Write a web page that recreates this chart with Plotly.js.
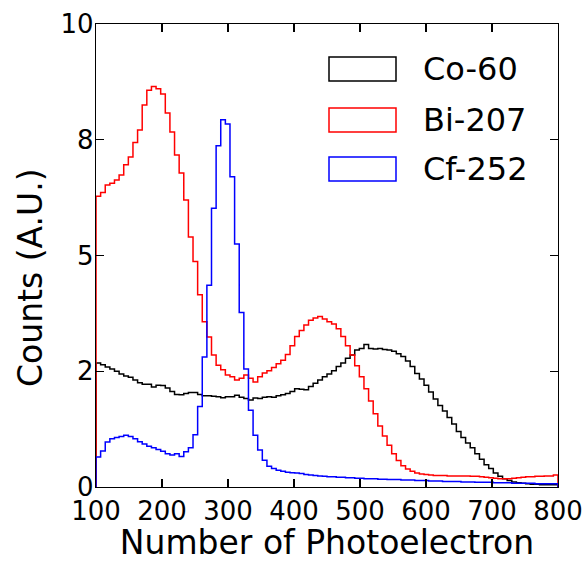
<!DOCTYPE html>
<html>
<head>
<meta charset="utf-8">
<script src="https://cdn.plot.ly/plotly-3.0.1.min.js"></script>
<style>html,body{margin:0;padding:0;background:#fff;}#chart{width:588px;height:562px;}</style>
</head>
<body>
<div id="chart"></div>
<script>
// Histogram: 100 bins of width 7 from 100 to 800
const binStart = 100;
const binWidth = 7;

const co60 = [2.68,2.64,2.59,2.55,2.50,2.44,2.40,2.37,2.31,2.25,2.22,2.22,2.16,2.20,2.19,2.14,2.06,2.00,1.99,2.02,
  2.04,2.04,2.00,1.97,1.97,1.96,1.95,1.93,1.95,1.95,1.98,1.94,1.91,1.88,1.92,1.91,1.94,1.95,1.94,1.97,
  1.99,2.02,2.06,2.12,2.11,2.10,2.17,2.24,2.31,2.38,2.44,2.51,2.60,2.68,2.78,2.85,2.96,2.99,3.08,2.99,
  2.98,2.99,2.97,2.96,2.93,2.88,2.82,2.72,2.60,2.45,2.33,2.20,2.05,1.90,1.76,1.64,1.50,1.36,1.20,1.07,
  0.95,0.85,0.72,0.60,0.48,0.40,0.30,0.23,0.18,0.14,0.11,0.09,0.08,0.07,0.06,0.06,0.05,0.05,0.05,0.05];

const bi207 = [6.28,6.36,6.52,6.56,6.63,6.74,6.96,7.13,7.44,7.71,8.25,8.57,8.65,8.60,8.49,8.08,7.67,7.17,6.78,6.20,
  5.40,4.87,4.15,3.57,3.24,2.85,2.63,2.53,2.42,2.38,2.31,2.35,2.42,2.35,2.27,2.38,2.46,2.51,2.58,2.66,
  2.74,2.86,3.05,3.25,3.38,3.50,3.60,3.65,3.68,3.63,3.57,3.52,3.42,3.25,3.05,2.85,2.62,2.38,2.12,1.86,
  1.58,1.32,1.10,0.90,0.72,0.57,0.46,0.39,0.34,0.30,0.28,0.27,0.26,0.25,0.25,0.25,0.24,0.24,0.24,0.24,
  0.24,0.23,0.23,0.22,0.21,0.20,0.19,0.18,0.18,0.18,0.19,0.20,0.21,0.22,0.22,0.23,0.23,0.24,0.24,0.26];

const cf252 = [0.65,0.78,0.97,1.04,1.07,1.09,1.12,1.09,1.04,0.98,0.93,0.88,0.85,0.81,0.77,0.72,0.69,0.72,0.66,0.76,
  0.85,1.13,1.74,2.81,4.36,6.02,7.37,7.93,7.84,6.70,5.25,3.77,2.55,1.66,1.12,0.80,0.58,0.45,0.40,0.36,
  0.34,0.32,0.31,0.30,0.29,0.27,0.26,0.25,0.24,0.23,0.22,0.22,0.21,0.21,0.20,0.20,0.19,0.19,0.18,0.18,
  0.18,0.17,0.17,0.16,0.16,0.16,0.15,0.15,0.15,0.14,0.14,0.14,0.13,0.13,0.13,0.12,0.12,0.12,0.12,0.11,
  0.11,0.11,0.10,0.10,0.10,0.10,0.09,0.09,0.09,0.09,0.08,0.08,0.08,0.08,0.08,0.07,0.07,0.07,0.07,0.07];

const seriesNames = ['Co-60', 'Bi-207', 'Cf-252'];
const seriesColors = ['#000000', '#ff0000', '#0000ff'];
const seriesData = [co60, bi207, cf252];

const xTickVals = [100,200,300,400,500,600,700,800];
const yTickVals = [0, 2.5, 5, 7.5, 10];
const yTickText = ['0', '2', '5', '8', '10'];

function stepTrace(vals, name, color) {
  const x = [binStart], y = [0];
  for (let i = 0; i < vals.length; i++) { x.push(binStart + i * binWidth); y.push(vals[i]); }
  const end = binStart + vals.length * binWidth;
  x.push(end); y.push(vals[vals.length - 1]);
  x.push(end); y.push(0);
  return {x, y, name, type: 'scatter', mode: 'lines', line: {shape: 'hv', color, width: 1.5}, showlegend: false, hoverinfo: 'skip'};
}

const traces = seriesData.map((d, i) => stepTrace(d, seriesNames[i], seriesColors[i]));

// plot box in pixels: left 96, top 24, width 462, height 463
const PL = 96, PT = 24, PW = 462, PH = 463;
const px = v => (v - PL) / PW;
const py = v => 1 - (v - PT) / PH;

// manual legend (matplotlib-style outlined patches)
const shapes = [], annotations = [];
const legTop = [57, 108, 157];
seriesNames.forEach((n, i) => {
  shapes.push({type: 'rect', xref: 'paper', yref: 'paper',
    x0: px(329), x1: px(396), y0: py(legTop[i] + 24), y1: py(legTop[i]),
    line: {color: seriesColors[i], width: 1.5}, fillcolor: 'rgba(0,0,0,0)'});
  annotations.push({xref: 'paper', yref: 'paper', x: px(421), y: py(legTop[i] + 12),
    xanchor: 'left', yanchor: 'middle', text: n, showarrow: false,
    font: {family: 'DejaVu Sans', size: 32, color: '#000'}});
});
// y-axis title (placed as in the reference)
annotations.push({xref: 'paper', yref: 'paper', x: px(30), y: py(278), xanchor: 'center', yanchor: 'middle',
  text: 'Counts (A.U.)', textangle: -90, showarrow: false,
  font: {family: 'DejaVu Sans', size: 33, color: '#000'}});

const axisCommon = {
  showline: true, linecolor: '#000', linewidth: 1.3, mirror: 'ticks',
  ticks: 'inside', ticklen: 8, tickwidth: 1.3, tickcolor: '#000',
  showgrid: false, zeroline: false,
  tickfont: {family: 'DejaVu Sans', size: 26, color: '#000'}
};

const layout = {
  width: 588, height: 562,
  margin: {l: PL, r: 588 - PL - PW, t: PT, b: 562 - PT - PH},
  paper_bgcolor: '#fff', plot_bgcolor: '#fff',
  showlegend: false,
  xaxis: Object.assign({}, axisCommon, {
    range: [100, 800], tickvals: xTickVals, ticktext: xTickVals.map(String),
    title: {text: 'Number of Photoelectron', font: {family: 'DejaVu Sans', size: 33, color: '#000'}, standoff: 7}
  }),
  yaxis: Object.assign({}, axisCommon, {
    range: [0, 10], tickvals: yTickVals, ticktext: yTickText, ticklabelstandoff: -4
  }),
  shapes, annotations
};

Plotly.newPlot('chart', traces, layout, {staticPlot: true, displayModeBar: false});
</script>
</body>
</html>
